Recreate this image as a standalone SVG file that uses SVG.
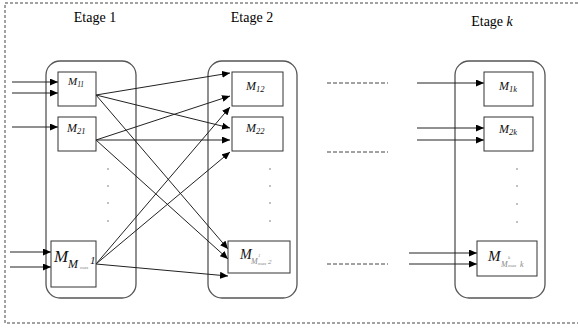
<svg xmlns="http://www.w3.org/2000/svg" width="578" height="333" viewBox="0 0 578 333">
<defs>
<marker id="ah" markerWidth="8" markerHeight="7" refX="8" refY="3.5" orient="auto" markerUnits="userSpaceOnUse">
<path d="M0,0 L8,3.5 L0,7 Z" fill="#000"/>
</marker>
<style>
.stage{fill:none;stroke:#555;stroke-width:1.3}
.box{fill:#fff;stroke:#333;stroke-width:1}
.c{fill:none;stroke:#222;stroke-width:1;marker-end:url(#ah)}
.dash{fill:none;stroke:#444;stroke-width:1;stroke-dasharray:3,2}
.dash2{fill:none;stroke:#444;stroke-width:1;stroke-dasharray:4,2}
.t{font-family:"Liberation Serif","DejaVu Serif",serif;fill:#000}
.i{font-family:"Liberation Serif","DejaVu Serif",serif;font-style:italic;fill:#111}
.g{fill:#888}
.dot{fill:#555}
</style>
</defs>
<rect x="5" y="3" width="580" height="320" class="dash"/>
<text class="t" x="95" y="22" font-size="14" text-anchor="middle">Etage 1</text>
<text class="t" x="252" y="22" font-size="14" text-anchor="middle">Etage 2</text>
<text class="t" x="492" y="26" font-size="14" text-anchor="middle">Etage <tspan font-style="italic">k</tspan></text>
<g id="stage1">
<rect x="46" y="61" width="90" height="237" rx="14" class="stage"/>
<g class="dot"><circle cx="108" cy="169" r="0.7"/><circle cx="108" cy="186" r="0.7"/><circle cx="108" cy="203" r="0.7"/><circle cx="108" cy="221" r="0.7"/></g>
</g>
<g id="stage2">
<rect x="208" y="61" width="89" height="237" rx="14" class="stage"/>
<g class="dot"><circle cx="270" cy="169" r="0.7"/><circle cx="270" cy="186" r="0.7"/><circle cx="270" cy="203" r="0.7"/><circle cx="270" cy="221" r="0.7"/></g>
</g>
<g id="stagek">
<rect x="455" y="61" width="90" height="237" rx="14" class="stage"/>
<g class="dot"><circle cx="517" cy="169" r="0.7"/><circle cx="517" cy="186" r="0.7"/><circle cx="517" cy="204" r="0.7"/><circle cx="517" cy="222" r="0.7"/></g>
</g>
<g id="connectors">
<line x1="12" y1="82" x2="58" y2="82" class="c"/>
<line x1="12" y1="93" x2="58" y2="93" class="c"/>
<line x1="12" y1="127" x2="58" y2="127" class="c"/>
<line x1="10" y1="252" x2="51" y2="252" class="c"/>
<line x1="10" y1="267" x2="51" y2="267" class="c"/>
<line x1="96" y1="95" x2="230" y2="73" class="c"/>
<line x1="96" y1="95" x2="230" y2="128" class="c"/>
<line x1="96" y1="95" x2="228" y2="249" class="c"/>
<line x1="96" y1="140" x2="230" y2="96" class="c"/>
<line x1="96" y1="140" x2="230" y2="140" class="c"/>
<line x1="96" y1="140" x2="228" y2="259" class="c"/>
<line x1="96" y1="264" x2="230" y2="107" class="c"/>
<line x1="96" y1="264" x2="230" y2="152" class="c"/>
<line x1="96" y1="264" x2="228" y2="276" class="c"/>
<line x1="417" y1="83" x2="484" y2="83" class="c"/>
<line x1="417" y1="128" x2="484" y2="128" class="c"/>
<line x1="417" y1="140" x2="484" y2="140" class="c"/>
<line x1="409" y1="253" x2="477" y2="253" class="c"/>
<line x1="409" y1="264" x2="477" y2="264" class="c"/>
<line x1="327" y1="83" x2="388" y2="83" class="dash2"/>
<line x1="327" y1="152" x2="388" y2="152" class="dash2"/>
<line x1="327" y1="264" x2="388" y2="264" class="dash2"/>
</g>
<g id="M11">
<rect x="58" y="72" width="38" height="34" class="box"/>
<text class="i" x="68" y="85" font-size="11">M<tspan font-size="7.5" dy="1.5">11</tspan></text>
</g>
<g id="M21">
<rect x="58" y="117" width="38" height="34" class="box"/>
<text class="i" x="67" y="132" font-size="12">M<tspan font-size="8.5" dy="2">21</tspan></text>
</g>
<g id="MM1">
<rect x="51" y="241" width="45" height="46" class="box"/>
<text class="i" x="54" y="262" font-size="17">M</text>
<text class="i" x="68" y="268" font-size="12">M</text>
<text class="i g" x="80" y="269" font-size="5">max</text>
<text class="i" x="90" y="264" font-size="11">1</text>
</g>
<g id="M12">
<rect x="232" y="72" width="51" height="34" class="box"/>
<text class="i" x="246" y="90" font-size="12">M<tspan font-size="8.5" dy="2">12</tspan></text>
</g>
<g id="M22">
<rect x="232" y="117" width="51" height="34" class="box"/>
<text class="i" x="246" y="132" font-size="12">M<tspan font-size="8.5" dy="2">22</tspan></text>
</g>
<g id="MM2">
<rect x="228" y="241" width="62" height="32" class="box"/>
<text class="i" x="240" y="259" font-size="14">M</text>
<text class="i g" x="251" y="264" font-size="8">M</text>
<text class="i g" x="258" y="257" font-size="5">1</text>
<text class="i g" x="258" y="265" font-size="5">max</text>
<text class="i g" x="268" y="264" font-size="7">2</text>
</g>
<g id="M1k">
<rect x="484" y="72" width="49" height="34" class="box"/>
<text class="i" x="499" y="90" font-size="12">M<tspan font-size="8.5" dy="2">1k</tspan></text>
</g>
<g id="M2k">
<rect x="484" y="117" width="49" height="34" class="box"/>
<text class="i" x="499" y="133" font-size="12">M<tspan font-size="8.5" dy="2">2k</tspan></text>
</g>
<g id="MMk">
<rect x="477" y="241" width="60" height="35" class="box"/>
<text class="i" x="488" y="261" font-size="15">M</text>
<text class="i g" x="501" y="267" font-size="8">M</text>
<text class="i g" x="508" y="259" font-size="5">k</text>
<text class="i g" x="508" y="267" font-size="5">max</text>
<text class="i g" x="520" y="267" font-size="8">k</text>
</g>
</svg>
